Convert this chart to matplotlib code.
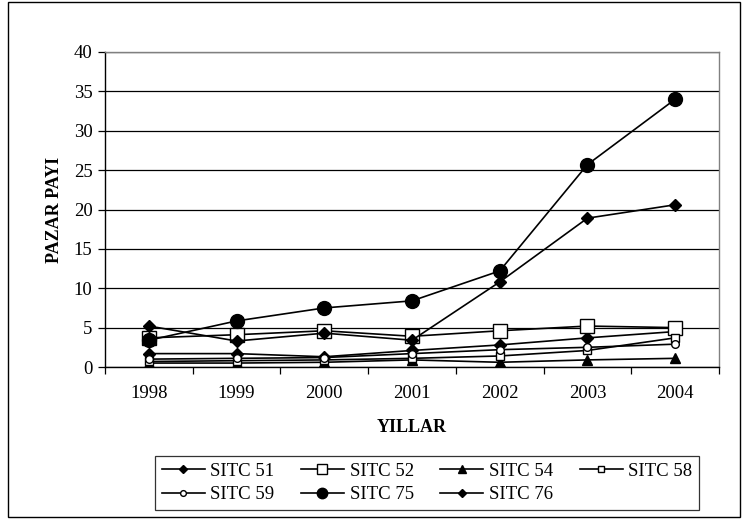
import matplotlib
matplotlib.use("Agg")
import matplotlib.pyplot as plt
from matplotlib.patches import Rectangle

plt.rcParams['font.family'] = ['Liberation Serif', 'DejaVu Serif']

years = ['1998', '1999', '2000', '2001', '2002', '2003', '2004']
sitc51 = [1.7, 1.7, 1.3, 2.1, 2.8, 3.7, 4.5]
sitc52 = [3.7, 4.1, 4.6, 3.9, 4.6, 5.2, 5.0]
sitc54 = [0.5, 0.5, 0.6, 0.9, 0.6, 0.9, 1.1]
sitc58 = [0.7, 0.8, 0.9, 1.1, 1.4, 2.1, 3.7]
sitc59 = [1.0, 1.1, 1.2, 1.7, 2.2, 2.5, 2.9]
sitc75 = [3.4, 5.85, 7.5, 8.4, 12.2, 25.7, 34.0]
sitc76 = [5.2, 3.3, 4.3, 3.4, 10.8, 18.9, 20.6]

series = [
    ('SITC 51', sitc51, dict(marker='D', markersize=6, markerfacecolor='black')),
    ('SITC 52', sitc52, dict(marker='s', markersize=10.5, markerfacecolor='white')),
    ('SITC 54', sitc54, dict(marker='^', markersize=7, markerfacecolor='black')),
    ('SITC 58', sitc58, dict(marker='s', markersize=5.5, markerfacecolor='white')),
    ('SITC 59', sitc59, dict(marker='o', markersize=5.5, markerfacecolor='white')),
    ('SITC 75', sitc75, dict(marker='o', markersize=10, markerfacecolor='black')),
    ('SITC 76', sitc76, dict(marker='D', markersize=6, markerfacecolor='black')),
]

fig = plt.figure(figsize=(7.48, 5.19), dpi=100)
ax = fig.add_axes([105/748, 1-367/519, (719-105)/748, (367-52)/519])

x = list(range(len(years)))
handles = {}
for name, vals, st in series:
    h, = ax.plot(x, vals, color='black', linewidth=1.2,
                 markeredgecolor='black', markeredgewidth=1.0, label=name, **st)
    handles[name] = h

ax.set_ylim(0, 40)
ax.set_xlim(-0.5, 6.5)
ax.set_yticks(range(0, 41, 5))
ax.yaxis.grid(True, color='black', linewidth=0.9)
ax.set_axisbelow(True)

ax.set_xticks([i - 0.5 for i in range(8)])
ax.set_xticklabels([])
ax.set_xticks(x, minor=True)
ax.set_xticklabels(years, minor=True)
ax.tick_params(axis='x', which='major', direction='out', length=5, width=0.9)
ax.tick_params(axis='x', which='minor', length=0, pad=13, labelsize=13.5)
ax.tick_params(axis='y', direction='out', length=5, width=0.9, labelsize=13.5, pad=4)

for s in ['top', 'right']:
    ax.spines[s].set_color('#808080')
    ax.spines[s].set_linewidth(1.0)
for s in ['left', 'bottom']:
    ax.spines[s].set_color('black')
    ax.spines[s].set_linewidth(1.0)

ax.set_ylabel('PAZAR PAYI', fontsize=13, fontweight='bold', labelpad=8)
ax.set_xlabel('YILLAR', fontsize=13, fontweight='bold', labelpad=12)

order = ['SITC 51', 'SITC 59', 'SITC 52', 'SITC 75', 'SITC 54', 'SITC 76', 'SITC 58']
leg = fig.legend([handles[n] for n in order], order, ncol=4,
                 loc='lower left', bbox_to_anchor=(155/748, 1-510/519, (699-155)/748, (510-456)/519),
                 mode='expand', fontsize=13.5, frameon=True, fancybox=False,
                 edgecolor='black', handlelength=2.3, handletextpad=0.3,
                 columnspacing=0.8, borderpad=0.35, labelspacing=0.35,
                 borderaxespad=0, markerscale=0.75)
leg.get_frame().set_linewidth(0.9)

fig.patches.append(Rectangle((8/748, 2/519), (740-8)/748, (517-2)/519,
                             transform=fig.transFigure, fill=False,
                             edgecolor='black', linewidth=1.0))

fig.savefig('out.png', dpi=100)
